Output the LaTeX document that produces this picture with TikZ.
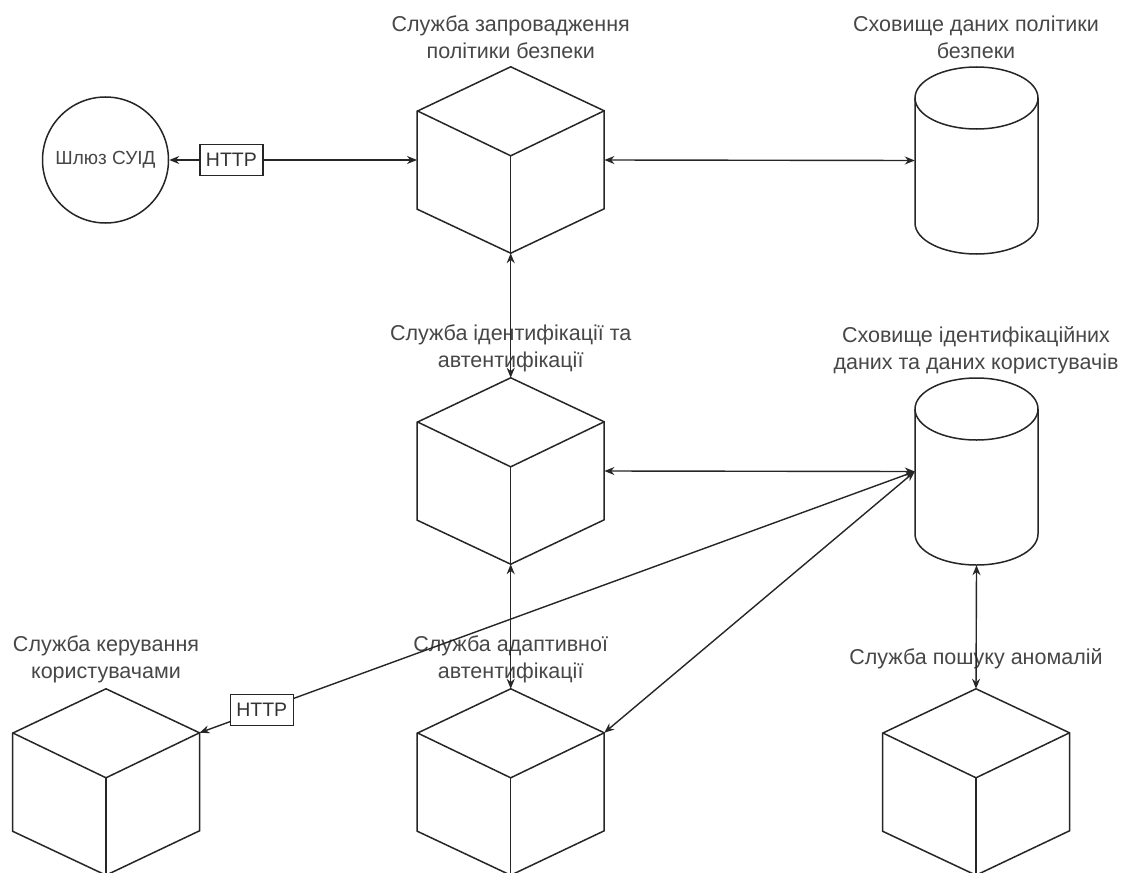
\documentclass[tikz,border=0pt]{standalone}
\usepackage{fontspec}
\setmainfont{Liberation Sans}
\usetikzlibrary{arrows.meta,calc}
\tikzset{
  shapeline/.style={line width=1.5pt, draw=black!85, line join=miter},
  cubebox/.style={minimum width=187pt, minimum height=186pt, inner sep=0pt, draw=none},
  cylbox/.style={minimum width=123pt, minimum height=187pt, inner sep=0pt, draw=none},
  lbl/.style={text=black!72, font=\fontsize{21.5}{27}\selectfont, align=center, inner sep=0pt},
  conn/.style={line width=1.4pt, draw=black!85, {Stealth[length=10pt,width=8pt]}-{Stealth[length=10pt,width=8pt]}},
  httpbox/.style={draw=black!85, line width=1.2pt, fill=white, text=black!80, font=\fontsize{19.5}{22}\selectfont, minimum width=63pt, minimum height=31pt, inner sep=0pt},
  gwnode/.style={circle, draw=black!85, line width=1.5pt, minimum size=126pt, inner sep=0pt, text=black!72, font=\fontsize{19}{22}\selectfont},
}
\newcommand{\mycube}[3]{%
  \node[cubebox] (#1) at (#2,-#3-93) {};
  \draw[shapeline] (#1.north) -- ++(93.5,-44) -- ++(0,-98) -- (#1.south) -- ++(-93.5,44) -- ++(0,98) -- cycle;
  \draw[shapeline] (#1.north) ++(-93.5,-44) -- ++(93.5,-45) coordinate (#1-c) -- ++(93.5,45);
  \draw[shapeline] (#1-c) -- (#1.south);
  \coordinate (#1-ur) at ($(#1.north)+(93.5,-44)$);
}
\newcommand{\mycyl}[3]{%
  \node[cylbox] (#1) at (#2,-#3-93.5) {};
  \draw[shapeline] (#2,-#3-31) ellipse [x radius=61.5, y radius=31];
  \draw[shapeline] (#2-61.5,-#3-31) -- (#2-61.5,-#3-156) arc[start angle=180,end angle=360,x radius=61.5,y radius=31] -- (#2+61.5,-#3-31);
}
\begin{document}
\begin{tikzpicture}[x=1pt,y=1pt]
\fill[white] (0,0) rectangle (1123,-872);
\useasboundingbox (0,0) rectangle (1123,-872);
% labels
\node[lbl] (t1) at (510.7,-37.5) {Служба запровадження\\політики безпеки};
\node[lbl] (t2) at (976,-37.5) {Сховище даних політики\\безпеки};
\node[lbl] (t3) at (510.7,-348.5) {Служба ідентифікації та\\автентифікації};
\node[lbl] (t4) at (976,-350) {Сховище ідентифікаційних\\даних та даних користувачів};
\node[lbl] (t5) at (106,-659.5) {Служба керування\\користувачами};
\node[lbl] (t6) at (510.7,-659.5) {Служба адаптивної\\автентифікації};
\node[lbl] (t7) at (976,-659) {Служба пошуку аномалій};
% shapes
\node[gwnode] (gw) at (105.5,-160) {Шлюз СУІД};
\mycube{c1}{510.7}{67}
\mycube{c2}{510.7}{378}
\mycube{c3}{106}{689}
\mycube{c4}{510.7}{689}
\mycube{c5}{976}{689}
\mycyl{cy1}{976.5}{67}
\mycyl{cy2}{976.5}{378}
% connectors
\draw[conn] (c1.west) -- node[httpbox,pos=0.749] (h1) {HTTP} (gw.east);
\draw[conn] (c1.east) -- (cy1.west);
\draw[conn] (c2.north) -- (c1.south);
\draw[conn] (c4.north) -- (c2.south);
\draw[conn] (c2.east) -- (cy2.west);
\draw[conn] (cy2.west) -- node[httpbox,pos=0.913] (h2) {HTTP} (c3-ur);
\draw[conn] (cy2.west) -- (c4-ur);
\draw[conn] (cy2.south) -- (c5.north);
\end{tikzpicture}
\end{document}
